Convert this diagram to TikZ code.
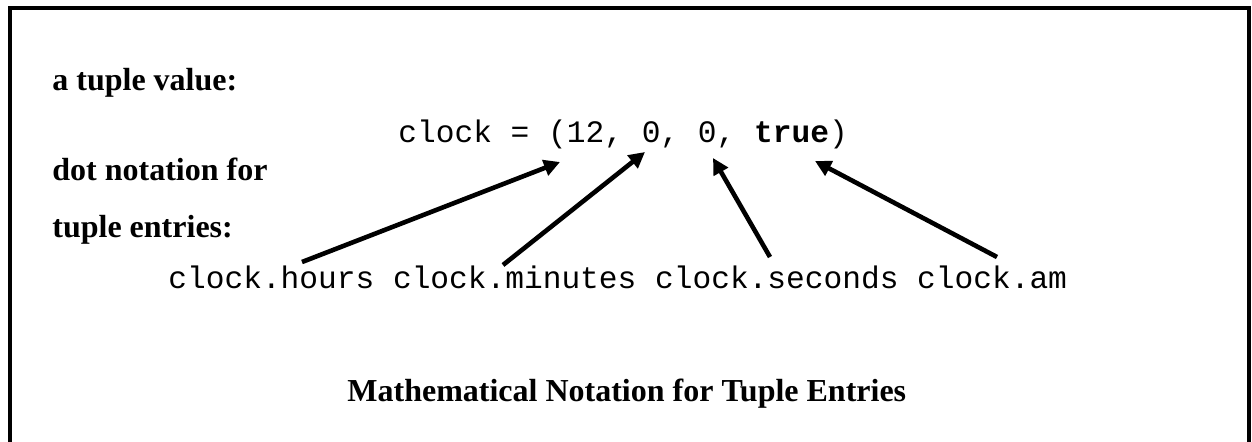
\documentclass[tikz,border=0pt]{standalone}
\usepackage{fontspec}
\setmainfont{Liberation Serif}
\setmonofont{Liberation Mono}
\usetikzlibrary{arrows.meta}
\tikzset{
  lbl/.style={anchor=base west, inner sep=0pt, font=\fontsize{16pt}{19pt}\selectfont\bfseries},
  code/.style={anchor=base west, inner sep=0pt, font=\fontsize{15.6pt}{19pt}\selectfont\ttfamily},
  ptr/.style={line width=2.3pt, -{Triangle[length=8pt,width=8pt]}},
  frame/.style={line width=2pt}
}
\begin{document}
\begin{tikzpicture}[x=0.5pt,y=-0.5pt]
\useasboundingbox (0,0) rectangle (1252,441);
\draw[frame] (10,445) -- (10,8) -- (1249,8) -- (1249,445);
\node[lbl] (tv) at (52,90) {a tuple value:};
\node[lbl] (dn) at (52,180) {dot notation for};
\node[lbl] (te) at (52,237) {tuple entries:};
\node[code] (val) at (398,142) {clock = (12, 0, 0, \textbf{true})};
\node[code] (acc) at (168,288) {clock.hours clock.minutes clock.seconds clock.am};
\node[lbl] (title) at (347,401) {Mathematical Notation for Tuple Entries};
\coordinate (h1) at (302,262);
\coordinate (h2) at (560,162);
\coordinate (m1) at (503,265);
\coordinate (m2) at (645,152);
\coordinate (s1) at (770,257);
\coordinate (s2) at (713,158);
\coordinate (a1) at (997,257);
\coordinate (a2) at (815,161);
\draw[ptr] (h1) -- (h2);
\draw[ptr] (m1) -- (m2);
\draw[ptr] (s1) -- (s2);
\draw[ptr] (a1) -- (a2);
\end{tikzpicture}
\end{document}
